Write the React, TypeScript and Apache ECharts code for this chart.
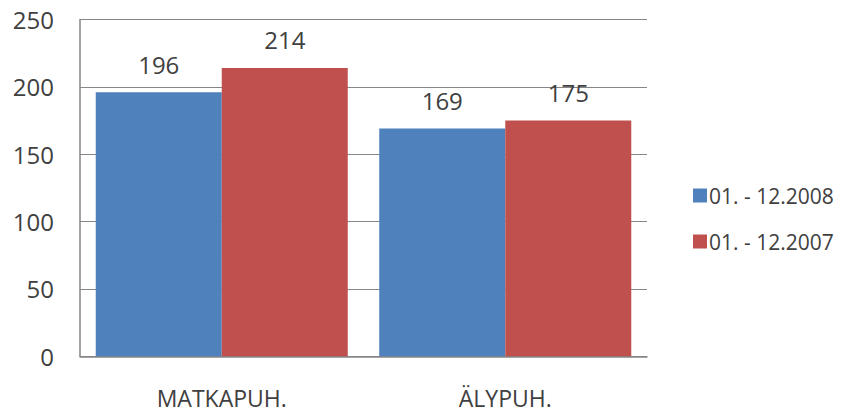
import React, { useEffect, useRef } from "react";
import * as echarts from "echarts";

const categories = ["MATKAPUH.", "ÄLYPUH."];
const seriesNames = ["01. - 12.2008", "01. - 12.2007"];
const values2008 = [196, 169];
const values2007 = [214, 175];
const colors = ["#4F81BD", "#C0504D"];

const FONT = "'Open Sans', 'Noto Sans', sans-serif";
const TEXT = "#404040";

export default function App() {
  const ref = useRef<HTMLDivElement>(null);
  useEffect(() => {
    if (!ref.current) return;
    const chart = echarts.init(ref.current, undefined, { renderer: "svg" });
    chart.setOption({
      animation: false,
      textStyle: { fontFamily: FONT },
      grid: { left: 80, right: 194, top: 19.5, bottom: 57.7, containLabel: false },
      legend: {
        orient: "vertical",
        left: 688,
        top: 180,
        itemWidth: 14,
        itemHeight: 14,
        itemGap: 25,
        icon: "rect",
        textStyle: { fontFamily: FONT, fontSize: 21, color: TEXT, padding: [0, 0, 0, -3] },
        data: seriesNames,
      },
      xAxis: {
        type: "category",
        data: categories,
        axisLine: { lineStyle: { color: "#868686", width: 1.5 } },
        axisTick: { show: false },
        axisLabel: { fontFamily: FONT, fontSize: 23, color: TEXT, margin: 30 },
      },
      yAxis: {
        type: "value",
        min: 0,
        max: 250,
        interval: 50,
        axisLine: { show: true, lineStyle: { color: "#868686", width: 1.5 } },
        axisTick: { show: false },
        axisLabel: { fontFamily: FONT, fontSize: 24, color: TEXT, margin: 26 },
        splitLine: { lineStyle: { color: "#868686", width: 1 } },
      },
      series: [
        {
          name: seriesNames[0],
          type: "bar",
          data: values2008,
          itemStyle: { color: colors[0] },
          barGap: "0%",
          barCategoryGap: "11.1%",
          label: { show: true, position: "top", distance: 16, fontFamily: FONT, fontSize: 24, color: TEXT },
        },
        {
          name: seriesNames[1],
          type: "bar",
          data: values2007,
          itemStyle: { color: colors[1] },
          barGap: "0%",
          barCategoryGap: "11.1%",
          label: { show: true, position: "top", distance: 16, fontFamily: FONT, fontSize: 24, color: TEXT },
        },
      ],
    });
    return () => chart.dispose();
  }, []);
  return <div ref={ref} style={{ width: 841, height: 414, position: "absolute", left: 0, top: 0 }} />;
}
